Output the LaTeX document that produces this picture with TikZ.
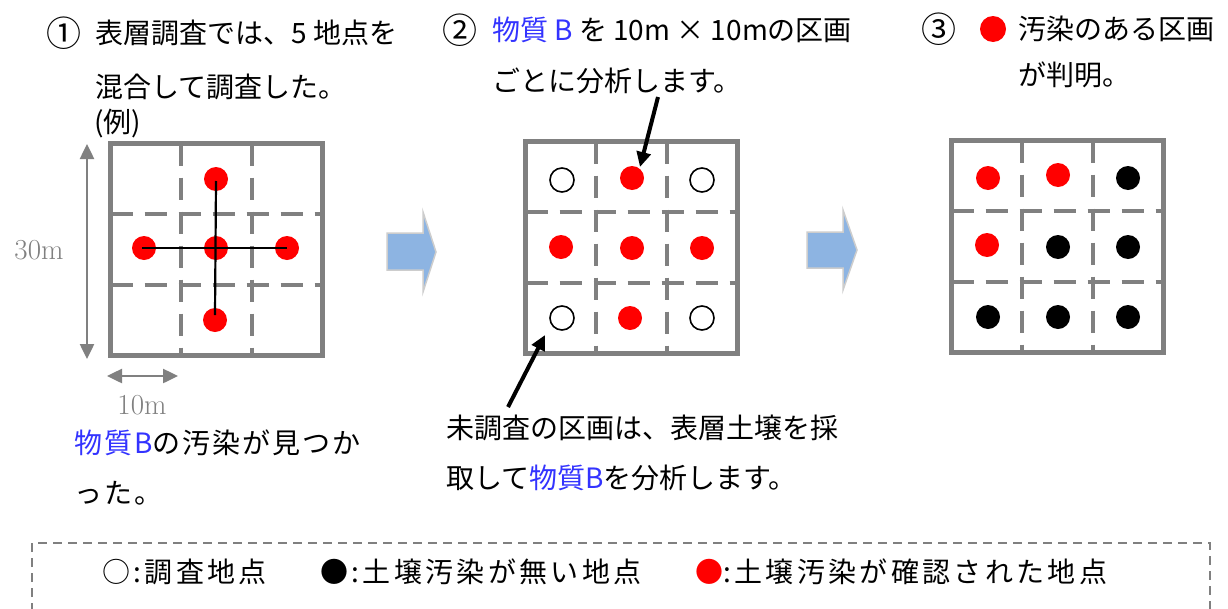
\documentclass[tikz,border=0pt]{standalone}
\usepackage{fontspec}
\newfontfamily\jp{Noto Sans CJK JP}
\newfontfamily\jpbl[LetterSpace=7]{Noto Sans CJK JP}
\newfontfamily\jpls[LetterSpace=12]{Noto Sans CJK JP}
\usetikzlibrary{arrows.meta}
\definecolor{gridgray}{RGB}{128,128,128}
\definecolor{txtblue}{RGB}{51,51,255}
\definecolor{arrowblue}{RGB}{141,180,226}
\definecolor{arrowedge}{RGB}{205,205,205}
\definecolor{dotred}{RGB}{255,0,0}
\newcommand\soilgrid[2]{%
  \begin{scope}[shift={(#1,#2)}]
    \draw[innerdash] (70.67,0) -- (70.67,212);
    \draw[innerdash] (141.33,0) -- (141.33,212);
    \draw[innerdash] (0,70.67) -- (212,70.67);
    \draw[innerdash] (0,141.33) -- (212,141.33);
    \draw[outerline] (0,0) rectangle (212,212);
  \end{scope}}
\begin{document}
\begin{tikzpicture}[x=1pt,y=-1pt,
  jtext/.style={font=\jp\fontsize{28}{34}\selectfont, inner sep=0pt, anchor=west, text height=24.6pt, text depth=3.4pt},
  jnum/.style={font=\jp\fontsize{35}{40}\selectfont, inner sep=0pt, anchor=center},
  bltext/.style={font=\jpbl\fontsize{28}{34}\selectfont, inner sep=0pt, anchor=west, text height=24.6pt, text depth=3.4pt},
  legtext/.style={font=\jpls\fontsize{28}{34}\selectfont, inner sep=0pt, anchor=west, text height=24.6pt, text depth=3.4pt},
  dimtext/.style={font=\fontsize{29}{34}\selectfont, text=gridgray, inner sep=0pt, anchor=center},
  innerdash/.style={draw=gridgray, line width=4pt, dash pattern=on 22pt off 12pt},
  outerline/.style={draw=gridgray, line width=5pt, line join=miter},
  reddot/.style={circle, fill=dotred, minimum size=24pt, inner sep=0pt},
  blackdot/.style={circle, fill=black, minimum size=24pt, inner sep=0pt},
  opendot/.style={circle, draw=black, line width=1.6pt, fill=white, minimum size=24pt, inner sep=0pt},
  crossline/.style={draw=black, line width=2.2pt},
  callout/.style={draw=black, line width=4pt, -{Triangle[length=15pt,width=14pt]}},
  dimarrow/.style={draw=gridgray, line width=2.5pt, {Triangle[length=15pt,width=14pt]}-{Triangle[length=15pt,width=14pt]}},
  bluearrow/.style={fill=arrowblue, draw=arrowedge, line width=1.5pt, line join=miter},
  legbox/.style={draw=gridgray, line width=1.5pt, dash pattern=on 9pt off 6pt}
]
\useasboundingbox (0,0) rectangle (1228,608);
\fill[white] (0,0) rectangle (1228,608);

% ---------- titles ----------
\node[jnum] (n1) at (64,33) {①};
\node[jtext] (t1a) at (95,33) {表層調査では、5 地点を};
\node[jtext] (t1b) at (95,87) {混合して調査した。};
\node[jtext] (t1c) at (94,122) {(例)};

\node[jnum] (n2) at (460,30) {②};
\node[jtext] (t2a) at (492,30) {{\color{txtblue}物質 B} を 10m × 10mの区画};
\node[jtext] (t2b) at (492,81) {ごとに分析します。};

\node[jnum] (n3) at (939,29) {③};
\node[reddot, minimum size=26pt] (t3dot) at (993,29) {};
\node[jtext] (t3a) at (1018,29) {汚染のある区画};
\node[jtext] (t3b) at (1018,75) {が判明。};

% ---------- grid 1 ----------
\soilgrid{110.5}{143.5}
\node[reddot] (g1t) at (216,179) {};
\node[reddot] (g1l) at (144,248) {};
\node[reddot] (g1c) at (216,248) {};
\node[reddot] (g1r) at (287,248) {};
\node[reddot] (g1b) at (215,320) {};
\draw[crossline] ([yshift=-2pt]g1t.center) -- ([yshift=5pt]g1b.center);
\draw[crossline] ([xshift=-2pt]g1l.center) -- (g1r.center);

\coordinate (d30a) at (87,144);
\coordinate (d30b) at (87,359);
\draw[dimarrow] (d30a) -- (d30b);
\node[dimtext] (l30) at (39,250) {30m};
\coordinate (d10a) at (107,376);
\coordinate (d10b) at (178,376);
\draw[dimarrow] (d10a) -- (d10b);
\node[dimtext] (l10) at (142,405) {10m};

\node[bltext] (t4a) at (74,443) {{\color{txtblue}物質B}の汚染が見つか};
\node[bltext] (t4b) at (74,493) {った。};

% ---------- blue arrows ----------
\draw[bluearrow] (387,233) -- (423,233) -- (423,212) -- (436,252) -- (423,292) -- (423,270) -- (387,270) -- cycle;
\draw[bluearrow] (807,232) -- (843,232) -- (843,210) -- (857,250) -- (843,290) -- (843,268) -- (807,268) -- cycle;

% ---------- grid 2 ----------
\soilgrid{525.5}{141.5}
\node[opendot] (g2a) at (562,180) {};
\node[reddot]  (g2b) at (632,178) {};
\node[opendot] (g2c) at (702,180) {};
\node[reddot]  (g2d) at (561,247) {};
\node[reddot]  (g2e) at (632,248) {};
\node[reddot]  (g2f) at (702,248) {};
\node[opendot] (g2g) at (562,318) {};
\node[reddot]  (g2h) at (630,318) {};
\node[opendot] (g2i) at (702,318) {};

\coordinate (c1s) at (658,97);
\coordinate (c1e) at (640,167);
\draw[callout] (c1s) -- (c1e);
\coordinate (c2s) at (508,407);
\coordinate (c2e) at (545,335);
\draw[callout] (c2s) -- (c2e);

\node[jtext] (t5a) at (446,428) {未調査の区画は、表層土壌を採};
\node[jtext] (t5b) at (446,478) {取して{\color{txtblue}物質B}を分析します。};

% ---------- grid 3 ----------
\soilgrid{951.5}{140.5}
\node[reddot]   (g3a) at (988,178) {};
\node[reddot]   (g3b) at (1058,175) {};
\node[blackdot] (g3c) at (1128,178) {};
\node[reddot]   (g3d) at (987,245) {};
\node[blackdot] (g3e) at (1058,247) {};
\node[blackdot] (g3f) at (1128,247) {};
\node[blackdot] (g3g) at (988,317) {};
\node[blackdot] (g3h) at (1058,317) {};
\node[blackdot] (g3i) at (1128,317) {};

% ---------- legend ----------
\draw[legbox] (32,612) -- (32,543) -- (1210,543) -- (1210,612);
\node[legtext] (lg1) at (102,572) {○:調査地点};
\node[legtext] (lg2) at (320,572) {●:土壌汚染が無い地点};
\node[legtext] (lg3) at (695,572) {{\color{dotred}●}:土壌汚染が確認された地点};
\end{tikzpicture}
\end{document}
